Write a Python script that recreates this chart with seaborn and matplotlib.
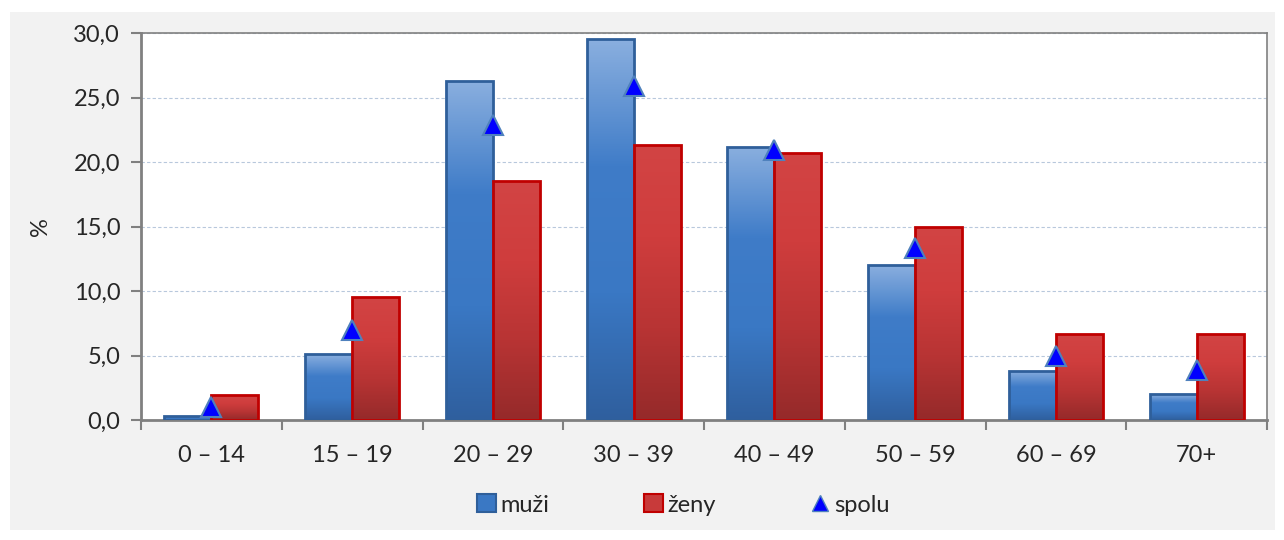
import matplotlib
matplotlib.use('Agg')
import matplotlib.pyplot as plt
import seaborn as sns
import pandas as pd
import numpy as np
from matplotlib.patches import Rectangle, Patch
from matplotlib.lines import Line2D
from matplotlib.colors import LinearSegmentedColormap
from matplotlib.ticker import FuncFormatter, FixedLocator

kategorie = ['0 – 14', '15 – 19', '20 – 29', '30 – 39', '40 – 49', '50 – 59', '60 – 69', '70+']
muzi = [0.3, 5.1, 26.3, 29.5, 21.2, 12.0, 3.8, 2.0]
zeny = [1.9, 9.5, 18.5, 21.3, 20.7, 15.0, 6.7, 6.7]
spolu = [1.0, 7.0, 22.9, 25.9, 20.9, 13.3, 5.0, 3.9]

df = pd.DataFrame({
    'kategoria': kategorie * 2,
    'hodnota': muzi + zeny,
    'pohlavie': ['muži'] * len(kategorie) + ['ženy'] * len(kategorie),
})

sns.set_style('white')
plt.rcParams['font.family'] = ['Lato', 'DejaVu Sans']
FS = 17

fig = plt.figure(figsize=(12.84, 5.4), dpi=100)
fig.patch.set_facecolor('white')
fig.patches.append(Rectangle((10 / 1284, 10 / 540), 1265 / 1284, 518 / 540,
                             transform=fig.transFigure, facecolor='#f2f2f2',
                             edgecolor='none', zorder=-5))
ax = fig.add_axes([141 / 1284, 1 - 420 / 540, 1126 / 1284, 387 / 540])
ax.set_facecolor('white')

sns.barplot(data=df, x='kategoria', y='hodnota', hue='pohlavie',
            palette={'muži': '#3a78c4', 'ženy': '#c83a3a'},
            width=0.667, errorbar=None, legend=False, ax=ax, zorder=3)

# gradient fill for bars
cm_blue = LinearSegmentedColormap.from_list('b', ['#2f5f9e', '#3a78c4', '#3f7cc8', '#8aafdf'])
cm_red = LinearSegmentedColormap.from_list('r', ['#952a2a', '#b83434', '#cf3d3d', '#d24444'])
grad = np.linspace(0, 1, 256).reshape(-1, 1)
n = len(kategorie)
for i, p in enumerate(ax.patches[:2 * n]):
    is_blue = i < n
    x0, y0 = p.get_x(), p.get_y()
    w, h = p.get_width(), p.get_height()
    if h <= 0:
        continue
    im = ax.imshow(grad, cmap=cm_blue if is_blue else cm_red, origin='lower',
                   extent=[x0, x0 + w, y0, y0 + h], aspect='auto', zorder=3.5)
    im.set_clip_path(p)
    p.set_edgecolor('#2f5f9a' if is_blue else '#c00000')
    p.set_linewidth(2)
    p.set_zorder(4)
    p.set_facecolor('none')

sns.pointplot(x=kategorie, y=spolu, linestyle='none', markers='^', color='#0000ff',
              markersize=15, markeredgecolor='#4f81bd', markeredgewidth=1.5,
              errorbar=None, ax=ax, zorder=6)

ax.set_xlim(-0.5, n - 0.5)
ax.set_ylim(0, 30)
ax.set_yticks(np.arange(0, 31, 5))
ax.yaxis.set_major_formatter(FuncFormatter(lambda v, _: f'{v:.1f}'.replace('.', ',')))
ax.yaxis.grid(True, linestyle=(0, (3, 2)), color='#b8c8dc', linewidth=0.8, zorder=0)
ax.set_axisbelow(True)
ax.set_xlabel('')
ax.set_ylabel('%', fontsize=FS, labelpad=16)

ax.set_xticks(range(n))
ax.set_xticklabels(kategorie, fontsize=FS)
ax.xaxis.set_minor_locator(FixedLocator(np.arange(-0.5, n, 1)))
ax.tick_params(axis='x', which='major', length=0, pad=18)
ax.tick_params(axis='x', which='minor', length=7, width=1.5, color='#808080', direction='out')
ax.tick_params(axis='y', length=7, width=1.5, color='#808080', direction='out', labelsize=FS, pad=8)
ax.xaxis.set_ticks_position('bottom')
ax.yaxis.set_ticks_position('left')

for s in ['left', 'bottom']:
    ax.spines[s].set_color('#808080')
    ax.spines[s].set_linewidth(2)
for s in ['top', 'right']:
    ax.spines[s].set_color('#808080')
    ax.spines[s].set_linewidth(1.2)
    ax.spines[s].set_visible(True)

handles = [
    Patch(facecolor='#3a78c4', edgecolor='#2f5f9a', linewidth=1.5, label='muži'),
    Patch(facecolor='#c83a3a', edgecolor='#c00000', linewidth=1.5, label='ženy'),
    Line2D([], [], marker='^', linestyle='none', color='#0000ff', markeredgecolor='#4f81bd',
           markersize=12, label='spolu'),
]
fig.legend(handles=handles, loc='center', bbox_to_anchor=(0.532, 1 - 505 / 540), ncol=3,
           frameon=False, fontsize=FS, handlelength=0.8, handleheight=0.8,
           handletextpad=0.2, columnspacing=4.0)

fig.savefig('out.png', dpi=100, facecolor=fig.get_facecolor())
